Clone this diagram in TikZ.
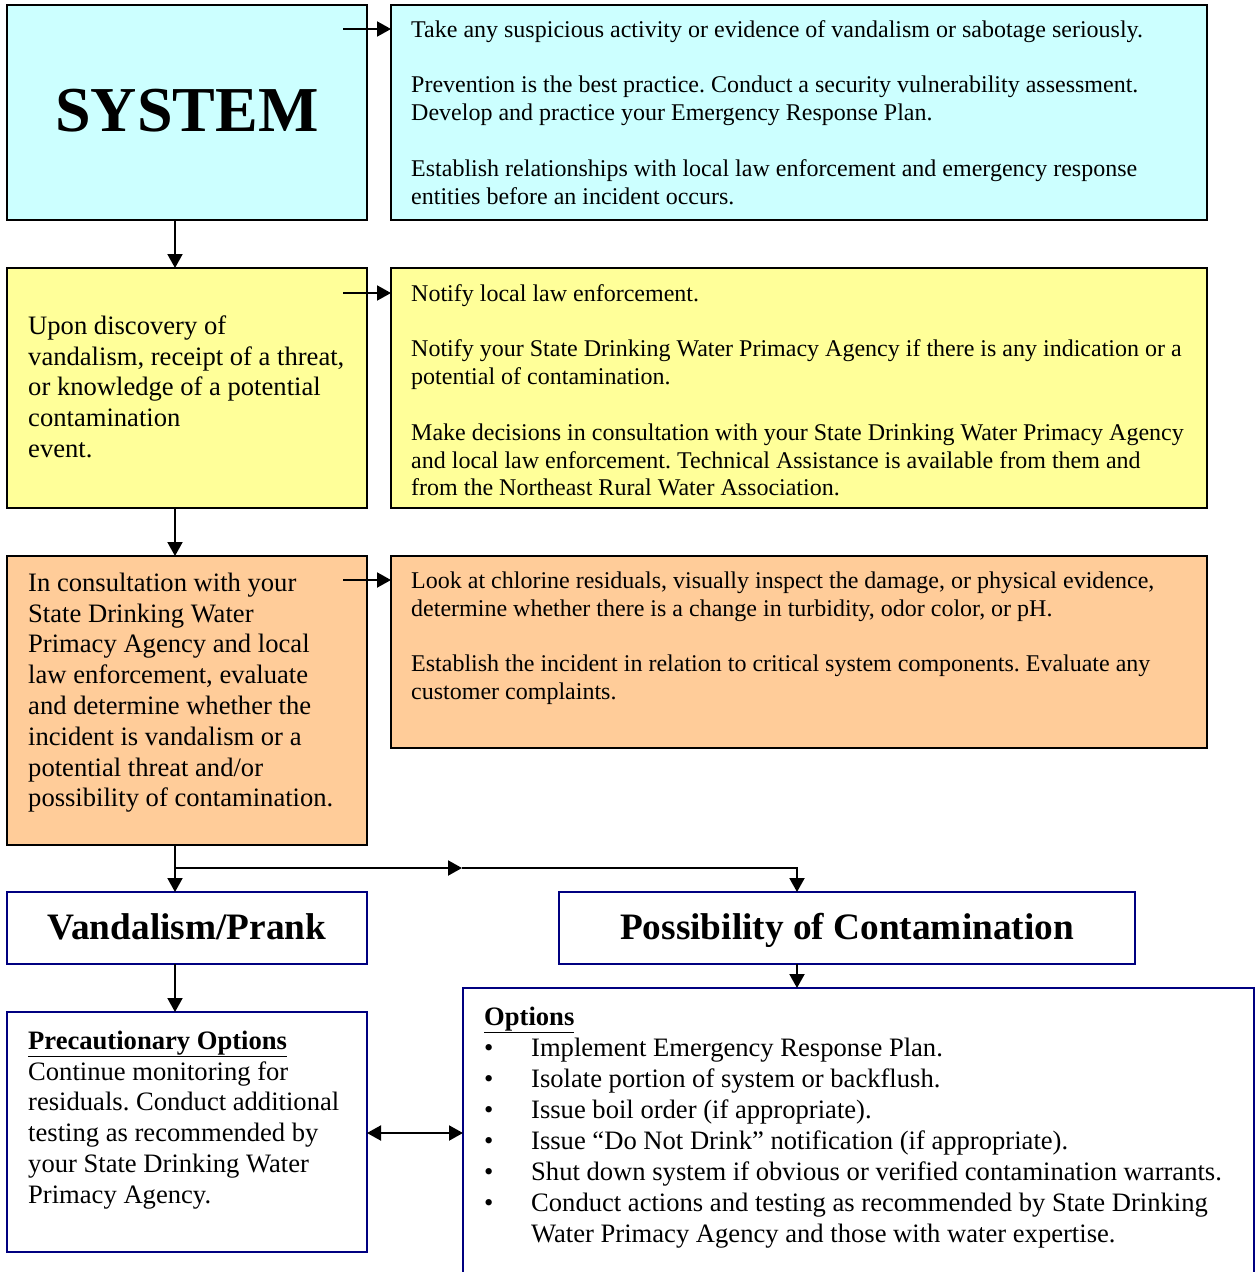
\documentclass[tikz,border=0pt]{standalone}
\usepackage{fontspec}
\setmainfont{Liberation Serif}
\usetikzlibrary{arrows.meta,calc}
\definecolor{cyanf}{HTML}{CCFFFF}
\definecolor{yelf}{HTML}{FFFF99}
\definecolor{orgf}{HTML}{FFCC99}
\definecolor{navyc}{HTML}{000080}
\newcommand{\st}{\rule{0pt}{21pt}}
\newcommand{\bul}{\makebox[47pt][l]{•}}
\frenchspacing
\begin{document}
\begin{tikzpicture}[x=1pt,y=-1pt,
  box/.style={draw=black,line width=2pt,anchor=north west,inner sep=0pt,outer sep=0pt},
  nbox/.style={draw=navyc,line width=2pt,fill=white,anchor=north west,inner sep=0pt,outer sep=0pt},
  rtxt/.style={anchor=north west,inner sep=0pt,align=left,font=\fontsize{24}{27.8}\selectfont},
  ltxt/.style={anchor=north west,inner sep=0pt,align=left,font=\fontsize{26.6}{30.8}\selectfont},
  otxt/.style={anchor=north west,inner sep=0pt,align=left,font=\fontsize{26.6}{31}\selectfont},
  ttl/.style={anchor=base,inner sep=0pt,font=\fontsize{37.3}{40}\selectfont\bfseries},
  arr/.style={line width=2pt,-{Triangle[length=14pt,width=15pt]}},
  darr/.style={line width=2pt,{Triangle[length=14pt,width=15pt]}-{Triangle[length=14pt,width=15pt]}}
]
\useasboundingbox (0,0) rectangle (1256,1272);
\fill[white] (0,0) rectangle (1256,1272);

% boxes
\node[box,fill=cyanf,minimum width=360pt,minimum height=215pt] (sys) at (7,5) {};
\node[box,fill=cyanf,minimum width=816pt,minimum height=215pt] (r1) at (391,5) {};
\node[box,fill=yelf,minimum width=360pt,minimum height=240pt] (yel) at (7,268) {};
\node[box,fill=yelf,minimum width=816pt,minimum height=240pt] (r2) at (391,268) {};
\node[box,fill=orgf,minimum width=360pt,minimum height=289pt] (org) at (7,556) {};
\node[box,fill=orgf,minimum width=816pt,minimum height=192pt] (r3) at (391,556) {};
\node[nbox,minimum width=360pt,minimum height=72pt] (van) at (7,892) {};
\node[nbox,minimum width=576pt,minimum height=72pt] (pos) at (559,892) {};
\node[nbox,minimum width=360pt,minimum height=240pt] (pre) at (7,1012) {};
\node[nbox,minimum width=791pt,minimum height=310pt] (opt) at (463,988) {};

% texts
\node[anchor=base,inner sep=0pt,font=\fontsize{64}{70}\selectfont\bfseries] (systxt) at (187,131) {SYSTEM};

\node[rtxt] (t1) at (411,16) {\st Take any suspicious activity or evidence of vandalism or sabotage seriously.\\[27.8pt]
Prevention is the best practice. Conduct a security vulnerability assessment.\\
Develop and practice your Emergency Response Plan.\\[27.8pt]
Establish relationships with local law enforcement and emergency response\\
entities before an incident occurs.};

\node[ltxt] (t2l) at (28,313) {\st Upon discovery of\\
vandalism, receipt of a threat,\\
or knowledge of a potential\\
contamination\\
event.};

\node[rtxt] (t2) at (411,280) {\st Notify local law enforcement.\\[27.8pt]
Notify your State Drinking Water Primacy Agency if there is any indication or a\\
potential of contamination.\\[27.8pt]
Make decisions in consultation with your State Drinking Water Primacy Agency\\
and local law enforcement. Technical Assistance is available from them and\\
from the Northeast Rural Water Association.};

\node[ltxt] (t3l) at (28,570) {\st In consultation with your\\
State Drinking Water\\
Primacy Agency and local\\
law enforcement, evaluate\\
and determine whether the\\
incident is vandalism or a\\
potential threat and/or\\
possibility of contamination.};

\node[rtxt] (t3) at (411,567) {\st Look at chlorine residuals, visually inspect the damage, or physical evidence,\\
determine whether there is a change in turbidity, odor color, or pH.\\[27.8pt]
Establish the incident in relation to critical system components. Evaluate any\\
customer complaints.};

\node[ttl] (vantxt) at (187,939) {Vandalism/Prank};
\node[ttl] (postxt) at (847,939) {Possibility of Contamination};

\node[ltxt] (pretxt) at (28,1028) {\st\underline{\textbf{Precautionary Options}}\\
Continue monitoring for\\
residuals. Conduct additional\\
testing as recommended by\\
your State Drinking Water\\
Primacy Agency.};

\node[otxt] (opttxt) at (484,1004) {\st\underline{\textbf{Options}}\\
\bul Implement Emergency Response Plan.\\
\bul Isolate portion of system or backflush.\\
\bul Issue boil order (if appropriate).\\
\bul Issue “Do Not Drink” notification (if appropriate).\\
\bul Shut down system if obvious or verified contamination warrants.\\
\bul Conduct actions and testing as recommended by State Drinking\\
\makebox[47pt][l]{}Water Primacy Agency and those with water expertise.};

% connectors
\draw[arr] ([xshift=-24pt,yshift=-24pt]sys.north east) -- ([yshift=-24pt]r1.north west);
\draw[arr] ([xshift=-24pt,yshift=-25pt]yel.north east) -- ([yshift=-25pt]r2.north west);
\draw[arr] ([xshift=-24pt,yshift=-24pt]org.north east) -- ([yshift=-24pt]r3.north west);
\draw[arr] ([xshift=-12pt]sys.south) -- ([xshift=-12pt]yel.north);
\draw[arr] ([xshift=-12pt]yel.south) -- ([xshift=-12pt]org.north);
\draw[arr] ([xshift=-12pt]org.south) -- ([xshift=-12pt]van.north);
\coordinate (br) at (175,868);
\coordinate (mid) at (462,868);
\coordinate (crn) at (797,868);
\draw[arr] (br) -- (mid);
\draw[arr] (mid) -- (crn) -- ([xshift=-50pt]pos.north);
\draw[arr] ([xshift=-12pt]van.south) -- ([xshift=-12pt]pre.north);
\draw[arr] ([xshift=-50pt]pos.south) -- ([xshift=-50pt]pos.south |- opt.north);
\draw[darr] ([yshift=-121pt]pre.north east) -- ([yshift=-121pt]pre.north east -| opt.west);
\end{tikzpicture}
\end{document}
